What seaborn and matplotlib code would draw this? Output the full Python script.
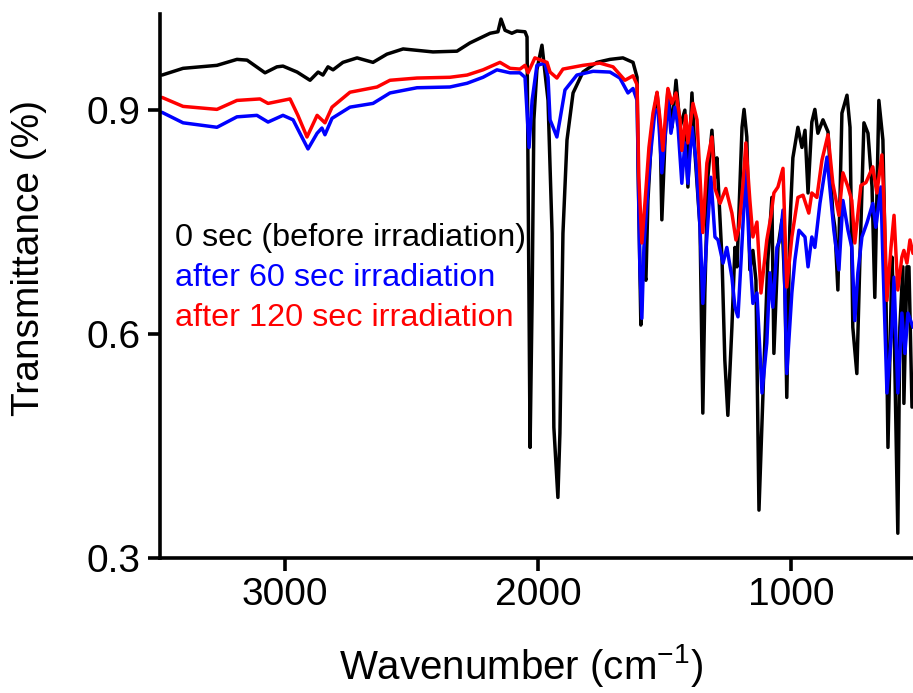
import matplotlib
matplotlib.use("Agg")
import matplotlib.pyplot as plt
import seaborn as sns
import pandas as pd

# ---- data ----
black_wn = [3487, 3404, 3270, 3191, 3151, 3080, 3033, 3009, 2953, 2902, 2870, 2851, 2831, 2811,
            2772, 2716, 2653, 2598, 2534, 2416, 2321, 2270, 2190, 2159, 2147, 2131, 2104, 2084,
            2052, 2044, 2032, 2024, 2017, 2005, 1985, 1961, 1945, 1938, 1922, 1914, 1902, 1886,
            1862, 1823, 1768, 1716, 1665, 1625, 1609, 1605, 1594, 1586, 1574, 1566, 1550, 1530,
            1518, 1511, 1499, 1487, 1471, 1455, 1439, 1420, 1408, 1392, 1380, 1360, 1349, 1341,
            1329, 1313, 1301, 1293, 1273, 1262, 1250, 1234, 1222, 1214, 1194, 1186, 1175, 1163,
            1151, 1139, 1127, 1111, 1092, 1076, 1068, 1052, 1036, 1024, 1017, 1005, 993, 973,
            957, 945, 933, 918, 906, 894, 874, 854, 835, 827, 815, 799, 779, 767, 756, 740, 728,
            712, 696, 680, 669, 653, 637, 625, 617, 601, 593, 578, 570, 558, 554, 542, 534, 522]
black_t = [0.947, 0.956, 0.960, 0.968, 0.967, 0.950, 0.958, 0.959, 0.951, 0.940, 0.951, 0.947,
           0.958, 0.954, 0.964, 0.970, 0.964, 0.975, 0.982, 0.978, 0.979, 0.990, 1.003, 1.005,
           1.022, 1.007, 1.003, 1.006, 1.005, 0.998, 0.448, 0.645, 0.887, 0.954, 0.987, 0.913,
           0.735, 0.475, 0.381, 0.467, 0.735, 0.860, 0.923, 0.951, 0.964, 0.968, 0.970, 0.964,
           0.944, 0.824, 0.612, 0.690, 0.672, 0.779, 0.877, 0.923, 0.877, 0.753, 0.856, 0.927,
           0.877, 0.940, 0.877, 0.900, 0.797, 0.923, 0.842, 0.743, 0.494, 0.655, 0.810, 0.873,
           0.810, 0.836, 0.699, 0.565, 0.491, 0.609, 0.716, 0.690, 0.877, 0.901, 0.864, 0.686,
           0.712, 0.672, 0.364, 0.521, 0.699, 0.783, 0.574, 0.716, 0.753, 0.655, 0.515, 0.743,
           0.836, 0.877, 0.850, 0.873, 0.789, 0.884, 0.901, 0.869, 0.887, 0.871, 0.762, 0.743,
           0.659, 0.896, 0.920, 0.877, 0.609, 0.547, 0.699, 0.883, 0.869, 0.797, 0.649, 0.913,
           0.860, 0.655, 0.448, 0.703, 0.618, 0.333, 0.609, 0.690, 0.507, 0.690, 0.690, 0.502]

blue_wn = [3487, 3404, 3270, 3191, 3112, 3068, 3009, 2969, 2942, 2910, 2874, 2855, 2843, 2815,
           2744, 2653, 2586, 2479, 2349, 2281, 2218, 2163, 2111, 2072, 2052, 2036, 2024, 2005,
           1973, 1961, 1953, 1941, 1926, 1914, 1894, 1847, 1783, 1716, 1677, 1645, 1625, 1609,
           1598, 1590, 1582, 1570, 1558, 1538, 1526, 1511, 1495, 1487, 1475, 1459, 1447, 1432,
           1420, 1408, 1392, 1376, 1360, 1349, 1333, 1317, 1301, 1289, 1269, 1254, 1234, 1222,
           1210, 1194, 1179, 1167, 1151, 1135, 1115, 1096, 1084, 1072, 1056, 1044, 1032, 1017,
           997, 985, 969, 945, 933, 918, 906, 886, 858, 847, 831, 811, 795, 775, 760, 748, 736,
           720, 700, 677, 665, 645, 637, 621, 601, 593, 578, 562, 550, 538, 518]
blue_t = [0.897, 0.883, 0.877, 0.891, 0.893, 0.884, 0.893, 0.887, 0.869, 0.848, 0.869, 0.876,
          0.867, 0.889, 0.904, 0.909, 0.923, 0.930, 0.931, 0.936, 0.944, 0.954, 0.950, 0.950,
          0.944, 0.850, 0.913, 0.960, 0.963, 0.944, 0.887, 0.877, 0.864, 0.887, 0.927, 0.947,
          0.952, 0.951, 0.943, 0.923, 0.929, 0.913, 0.690, 0.621, 0.716, 0.775, 0.833, 0.900,
          0.900, 0.816, 0.877, 0.917, 0.869, 0.904, 0.877, 0.802, 0.856, 0.802, 0.877, 0.833,
          0.743, 0.641, 0.730, 0.810, 0.730, 0.726, 0.695, 0.716, 0.676, 0.636, 0.623, 0.722,
          0.820, 0.726, 0.641, 0.655, 0.521, 0.588, 0.682, 0.636, 0.716, 0.726, 0.766, 0.547,
          0.655, 0.699, 0.739, 0.730, 0.690, 0.730, 0.716, 0.775, 0.837, 0.797, 0.739, 0.686,
          0.779, 0.739, 0.716, 0.618, 0.682, 0.730, 0.749, 0.775, 0.743, 0.797, 0.699, 0.521,
          0.609, 0.676, 0.521, 0.628, 0.574, 0.628, 0.609]

red_wn = [3487, 3404, 3270, 3191, 3100, 3068, 2981, 2950, 2914, 2874, 2843, 2815, 2744, 2637,
          2586, 2479, 2349, 2281, 2218, 2151, 2111, 2072, 2052, 2040, 2013, 1965, 1953, 1926,
          1902, 1823, 1756, 1704, 1657, 1625, 1609, 1602, 1590, 1578, 1562, 1546, 1530, 1518,
          1507, 1495, 1487, 1471, 1455, 1439, 1432, 1416, 1408, 1388, 1372, 1360, 1349, 1333,
          1313, 1301, 1281, 1258, 1234, 1218, 1206, 1190, 1179, 1163, 1151, 1135, 1119, 1096,
          1080, 1068, 1052, 1032, 1017, 997, 973, 953, 930, 918, 898, 878, 854, 835, 811, 795,
          775, 760, 748, 724, 704, 677, 661, 641, 633, 621, 605, 593, 578, 562, 554, 542, 530, 518]
red_t = [0.917, 0.905, 0.901, 0.913, 0.915, 0.909, 0.915, 0.893, 0.864, 0.893, 0.883, 0.904,
         0.924, 0.931, 0.940, 0.943, 0.944, 0.947, 0.954, 0.964, 0.956, 0.955, 0.960, 0.950,
         0.970, 0.964, 0.951, 0.943, 0.955, 0.960, 0.963, 0.958, 0.940, 0.946, 0.934, 0.810,
         0.722, 0.775, 0.850, 0.896, 0.924, 0.887, 0.846, 0.900, 0.929, 0.909, 0.923, 0.887,
         0.846, 0.893, 0.856, 0.909, 0.887, 0.810, 0.736, 0.829, 0.864, 0.795, 0.775, 0.795,
         0.762, 0.726, 0.743, 0.802, 0.856, 0.779, 0.730, 0.750, 0.655, 0.726, 0.757, 0.789,
         0.797, 0.822, 0.663, 0.730, 0.783, 0.786, 0.762, 0.789, 0.783, 0.833, 0.867, 0.802,
         0.759, 0.816, 0.797, 0.779, 0.722, 0.799, 0.803, 0.824, 0.789, 0.840, 0.779, 0.645,
         0.716, 0.759, 0.659, 0.703, 0.712, 0.695, 0.726, 0.708]

series_labels = ["0 sec (before irradiation)", "after 60 sec irradiation", "after 120 sec irradiation"]
series_colors = ["#000000", "#0000FF", "#FF0000"]
x_ticks = [3000, 2000, 1000]
y_ticks = [0.3, 0.6, 0.9]

# ---- plotting ----
sns.set_theme(style="ticks")
plt.rcParams['font.family'] = ['Liberation Sans', 'DejaVu Sans']
plt.rcParams['text.color'] = 'black'
plt.rcParams['axes.labelcolor'] = 'black'

fig = plt.figure(figsize=(9.13, 6.93), dpi=100)
ax = fig.add_axes([0.1753, 0.195, 1.0 - 0.1753, 0.98 - 0.195])

frames = [
    pd.DataFrame({"wn": black_wn, "T": black_t, "s": series_labels[0]}),
    pd.DataFrame({"wn": blue_wn, "T": blue_t, "s": series_labels[1]}),
    pd.DataFrame({"wn": red_wn, "T": red_t, "s": series_labels[2]}),
]
for df, c in zip(frames, series_colors):
    sns.lineplot(data=df, x="wn", y="T", color=c, linewidth=2.5, ax=ax,
                 estimator=None, sort=False, legend=False)

ax.set_xlim(3495, 518)
ax.set_ylim(0.3, 1.029)
ax.set_xticks(x_ticks)
ax.set_yticks(y_ticks)
ax.set_yticklabels([f"{v:.1f}" for v in y_ticks])
sns.despine(ax=ax)
for sp in ["left", "bottom"]:
    ax.spines[sp].set_linewidth(2.6)
    ax.spines[sp].set_color("black")
ax.tick_params(axis="both", length=9, width=2.6, labelsize=28, pad=5,
               colors="black", labelcolor="black")

ax.set_xlabel("Wavenumber (cm$\\mathregular{^{-1}}$)", fontsize=29, color="black")
ax.set_ylabel("Transmittance (%)", fontsize=28, color="black")
ax.xaxis.set_label_coords(0.479, -0.155)
ax.yaxis.set_label_coords(-0.150, 0.551)

ys = [0.588, 0.515, 0.441]
for lab, c, yy in zip(series_labels, series_colors, ys):
    ax.text(0.020, yy, lab, color=c, fontsize=23.3, transform=ax.transAxes,
            ha="left", va="center")

fig.savefig("out.png", dpi=100)
